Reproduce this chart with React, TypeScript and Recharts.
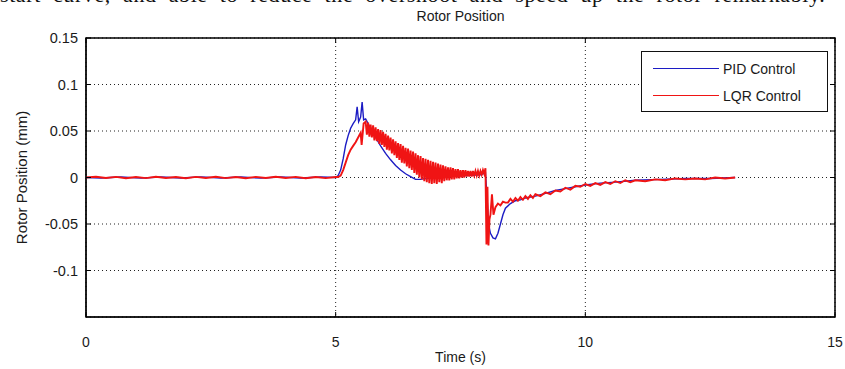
import React from "react";
import {
  LineChart,
  Line,
  XAxis,
  YAxis,
  CartesianGrid,
  Legend,
  ReferenceArea,
} from "recharts";

// ---------- data ----------
const chartTitle = "Rotor Position";
const xAxisTitle = "Time (s)";
const yAxisTitle = "Rotor Position (mm)";
const seriesNames = ["PID Control", "LQR Control"];
const xTicks = [0, 5, 10, 15];
const yTicks = [-0.1, -0.05, 0, 0.05, 0.1, 0.15];
const yTickLabels = ["-0.1", "-0.05", "0", "0.05", "0.1", "0.15"];
const captionText =
  "start curve, and able to reduce the overshoot and speed up the rotor remarkably.";

// PID Control [time, position]
const pidPoints: [number, number][] = [
  [0, 0], [0.3, -0.0006], [0.7, 0.0005], [1.1, -0.0007], [1.5, 0.0006], [1.9, -0.0005],
  [2.3, 0.0007], [2.7, -0.0006], [3.1, 0.0005], [3.5, -0.0007], [3.9, 0.0006],
  [4.3, -0.0005], [4.7, 0.0006], [5.0, 0],
  [5.05, 0.002], [5.1, 0.008], [5.15, 0.02], [5.2, 0.035], [5.25, 0.045], [5.3, 0.053],
  [5.35, 0.058], [5.4, 0.062], [5.43, 0.076], [5.46, 0.06], [5.5, 0.065], [5.53, 0.081],
  [5.56, 0.062], [5.6, 0.063], [5.65, 0.058], [5.7, 0.052], [5.8, 0.043], [5.9, 0.034],
  [6.0, 0.026], [6.1, 0.019], [6.2, 0.013], [6.3, 0.008], [6.4, 0.004], [6.5, 0.001],
  [6.6, -0.002], [6.7, -0.002], [6.8, -0.001], [7.0, 0.0], [7.3, 0.001], [7.6, 0.002],
  [7.9, 0.003], [8.0, 0.005], [8.03, -0.02], [8.06, -0.05], [8.1, -0.06], [8.15, -0.065],
  [8.2, -0.066], [8.25, -0.06], [8.3, -0.05], [8.35, -0.04], [8.4, -0.033], [8.5, -0.028],
  [8.6, -0.025], [8.7, -0.024], [8.8, -0.022], [8.9, -0.021], [9.0, -0.02], [9.2, -0.017],
  [9.4, -0.014], [9.6, -0.012], [9.8, -0.01], [10.0, -0.008], [10.3, -0.006],
  [10.6, -0.005], [11.0, -0.003], [11.5, -0.002], [12.0, -0.001], [12.5, -0.001], [13.0, 0],
];

// LQR Control [time, position]
const lqrPoints: [number, number][] = [
  [0, 0], [0.2, 0.0008], [0.4, -0.0006], [0.6, 0.0007], [0.8, -0.0008], [1.0, 0.0005],
  [1.2, -0.0007], [1.4, 0.0008], [1.6, -0.0005], [1.8, 0.0006], [2.0, -0.0008],
  [2.2, 0.0007], [2.4, -0.0006], [2.6, 0.0008], [2.8, -0.0007], [3.0, 0.0005],
  [3.2, -0.0008], [3.4, 0.0007], [3.6, -0.0005], [3.8, 0.0008], [4.0, -0.0006],
  [4.2, 0.0007], [4.4, -0.0008], [4.6, 0.0006], [4.8, -0.0007], [5.0, 0.0005],
  [5.05, 0.0005], [5.1, 0.002], [5.15, 0.008], [5.2, 0.016], [5.25, 0.024], [5.3, 0.03],
  [5.35, 0.034], [5.4, 0.038], [5.45, 0.043], [5.5, 0.048], [5.52, 0.035], [5.56, 0.058],
  [5.6, 0.06],
  [5.625, 0.046], [5.65, 0.059], [5.675, 0.044], [5.7, 0.057], [5.725, 0.043], [5.75, 0.056],
  [5.775, 0.04], [5.8, 0.054], [5.825, 0.039], [5.85, 0.052], [5.875, 0.036], [5.9, 0.051],
  [5.925, 0.035], [5.95, 0.049], [5.975, 0.033], [6.0, 0.047], [6.025, 0.03], [6.05, 0.045],
  [6.075, 0.029], [6.1, 0.043], [6.125, 0.026], [6.15, 0.041], [6.175, 0.024], [6.2, 0.039],
  [6.225, 0.021], [6.25, 0.037], [6.275, 0.019], [6.3, 0.036], [6.325, 0.016], [6.35, 0.034],
  [6.375, 0.015], [6.4, 0.032], [6.425, 0.012], [6.45, 0.031], [6.475, 0.01], [6.5, 0.029],
  [6.525, 0.008], [6.55, 0.028], [6.575, 0.005], [6.6, 0.026], [6.625, 0.003], [6.65, 0.024],
  [6.675, 0.0], [6.7, 0.023], [6.725, -0.002], [6.75, 0.021], [6.775, -0.004], [6.8, 0.02],
  [6.825, -0.005], [6.85, 0.019], [6.875, -0.006], [6.9, 0.018], [6.925, -0.007], [6.95, 0.017],
  [6.975, -0.006], [7.0, 0.016], [7.025, -0.007], [7.05, 0.015], [7.075, -0.005], [7.1, 0.014],
  [7.125, -0.006], [7.15, 0.013], [7.175, -0.004], [7.2, 0.012], [7.225, -0.003], [7.25, 0.011],
  [7.275, -0.003], [7.3, 0.011], [7.325, -0.002], [7.35, 0.01], [7.375, -0.002], [7.4, 0.009],
  [7.425, -0.001], [7.45, 0.009], [7.475, -0.001], [7.5, 0.008], [7.525, 0.0], [7.55, 0.008],
  [7.575, 0.0], [7.6, 0.008], [7.625, 0.001], [7.65, 0.007], [7.675, 0.001], [7.7, 0.007],
  [7.725, 0.001], [7.75, 0.007], [7.775, 0.002], [7.8, 0.007], [7.825, 0.002], [7.85, 0.007],
  [7.875, 0.002], [7.9, 0.007], [7.925, 0.003], [7.95, 0.008], [7.975, 0.004], [8.0, 0.01],
  [8.02, -0.072], [8.04, -0.01], [8.06, -0.073], [8.08, -0.045], [8.1, -0.04], [8.13, -0.018],
  [8.16, -0.04], [8.2, -0.032], [8.25, -0.028], [8.3, -0.03], [8.35, -0.026], [8.4, -0.027],
  [8.45, -0.027], [8.5, -0.023], [8.55, -0.026], [8.6, -0.022], [8.65, -0.025], [8.7, -0.021],
  [8.75, -0.024], [8.8, -0.02], [8.85, -0.023], [8.9, -0.019], [8.95, -0.022], [9.0, -0.018],
  [9.1, -0.02], [9.2, -0.016], [9.3, -0.018], [9.4, -0.014], [9.5, -0.015], [9.6, -0.011],
  [9.7, -0.013], [9.8, -0.009], [9.9, -0.01], [10.0, -0.007], [10.1, -0.009], [10.2, -0.006],
  [10.3, -0.008], [10.4, -0.005], [10.5, -0.007], [10.6, -0.004], [10.7, -0.006],
  [10.8, -0.003], [10.9, -0.005], [11.0, -0.003], [11.2, -0.004], [11.4, -0.002],
  [11.6, -0.003], [11.8, -0.001], [12.0, -0.002], [12.2, -0.001], [12.4, -0.002],
  [12.6, 0.0], [12.8, -0.001], [13.0, 0.0],
];

const pidData = pidPoints.map(([t, v]) => ({ t, v }));
const lqrData = lqrPoints.map(([t, v]) => ({ t, v }));

// ---------- styles ----------
const W = 845;
const H = 369;
const PLOT_LEFT = 86;
const PLOT_RIGHT = 835;
const PLOT_TOP = 38;
const PLOT_BOTTOM = 317;
const FONT = "'Liberation Sans', Arial, sans-serif";
const TEXT = "#1a1a1a";
const BLUE = "#1c1cc4";
const RED = "#f01414";
const TICK_LEN = 5;

const XTick = (props: any) => {
  const { x, y, payload } = props;
  return (
    <g>
      <line x1={x} y1={y} x2={x} y2={y - TICK_LEN} stroke="#000" />
      <line x1={x} y1={PLOT_TOP} x2={x} y2={PLOT_TOP + TICK_LEN} stroke="#000" />
      <text x={x} y={y + 30} textAnchor="middle" fontSize={14} fontFamily={FONT} fill={TEXT}>
        {payload.value}
      </text>
    </g>
  );
};

const YTick = (props: any) => {
  const { x, y, payload } = props;
  const i = yTicks.indexOf(payload.value);
  const label = i >= 0 ? yTickLabels[i] : String(payload.value);
  return (
    <g>
      <line x1={x} y1={y} x2={x + TICK_LEN} y2={y} stroke="#000" />
      <line x1={PLOT_RIGHT} y1={y} x2={PLOT_RIGHT - TICK_LEN} y2={y} stroke="#000" />
      <text x={x - 8} y={y + 5} textAnchor="end" fontSize={14.5} fontFamily={FONT} fill={TEXT}>
        {label}
      </text>
    </g>
  );
};

const LegendBox = () => (
  <div
    style={{
      width: 185,
      height: 59,
      border: "1px solid #111",
      background: "#fff",
      position: "relative",
      fontFamily: FONT,
      fontSize: 14,
      color: TEXT,
    }}
  >
    {[BLUE, RED].map((c, i) => (
      <div
        key={i}
        style={{ position: "absolute", left: 11, top: 8 + i * 27, height: 17, display: "flex", alignItems: "center" }}
      >
        <div style={{ width: 66, height: 0, borderTop: `1px solid ${c}` }} />
        <span style={{ marginLeft: 4, whiteSpace: "nowrap" }}>{seriesNames[i]}</span>
      </div>
    ))}
  </div>
);

export default function App() {
  return (
    <div style={{ position: "fixed", left: 0, top: 0, width: W, height: H, background: "#fff", overflow: "hidden" }}>
      <div style={{ position: "absolute", left: 0, top: 0, width: W, height: 9, overflow: "hidden" }}>
        <div
          style={{
            position: "absolute",
            left: 0,
            top: -16,
            fontFamily: "'Liberation Serif', 'Times New Roman', serif",
            fontSize: 22,
            lineHeight: "22px",
            whiteSpace: "nowrap",
            letterSpacing: 0.6,
            wordSpacing: 6,
            color: "#111",
          }}
        >
          {captionText}
        </div>
      </div>
      <div
        style={{
          position: "absolute",
          left: 0,
          width: PLOT_LEFT + PLOT_RIGHT,
          top: 8,
          textAlign: "center",
          fontFamily: FONT,
          fontSize: 14,
          color: TEXT,
        }}
      >
        {chartTitle}
      </div>
      <LineChart
        width={W}
        height={H}
        margin={{ top: PLOT_TOP, right: W - PLOT_RIGHT, left: 0, bottom: 0 }}
      >
        <CartesianGrid stroke="#222" strokeDasharray="1 3" strokeWidth={1} />
        <XAxis
          dataKey="t"
          type="number"
          domain={[0, 15]}
          ticks={xTicks}
          interval={0}
          height={H - PLOT_BOTTOM}
          axisLine={{ stroke: "#000" }}
          tickLine={false}
          tickSize={0}
          tickMargin={0}
          tick={(p: any) => <XTick {...p} />}
          allowDataOverflow
          label={{ value: xAxisTitle, position: "center", dy: 14, fontSize: 14, fontFamily: FONT, fill: TEXT }}
        />
        <YAxis
          type="number"
          domain={[-0.15, 0.15]}
          ticks={yTicks}
          interval={0}
          width={PLOT_LEFT}
          axisLine={{ stroke: "#000" }}
          tickLine={false}
          tickSize={0}
          tickMargin={0}
          tick={(p: any) => <YTick {...p} />}
          allowDataOverflow
          label={{ value: yAxisTitle, angle: -90, position: "center", dx: -21, fontSize: 15, fontFamily: FONT, fill: TEXT }}
        />
        <ReferenceArea x1={0} x2={15} y1={-0.15} y2={0.15} fill="none" stroke="#000" strokeWidth={1.5} />
        <Line
          data={pidData}
          dataKey="v"
          name={seriesNames[0]}
          stroke={BLUE}
          strokeWidth={1.4}
          dot={false}
          isAnimationActive={false}
        />
        <Line
          data={lqrData}
          dataKey="v"
          name={seriesNames[1]}
          stroke={RED}
          strokeWidth={1.9}
          dot={false}
          isAnimationActive={false}
        />
        <Legend
          layout="horizontal"
          verticalAlign="middle"
          align="center"
          wrapperStyle={{ position: "absolute", left: 641, top: 51, width: 187, height: 61 }}
          content={() => <LegendBox />}
        />
      </LineChart>
    </div>
  );
}
